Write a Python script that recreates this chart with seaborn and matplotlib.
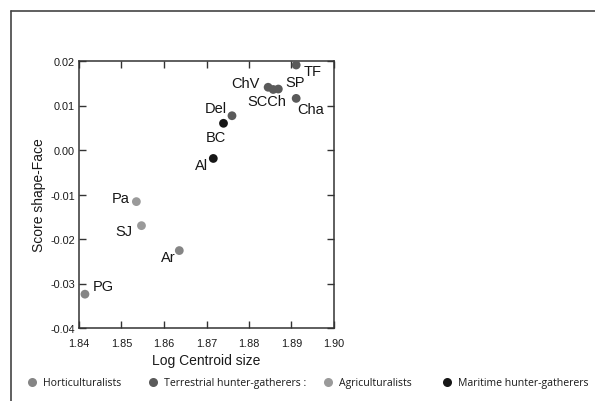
import matplotlib
matplotlib.use("Agg")
import matplotlib.pyplot as plt
from matplotlib.lines import Line2D
import seaborn as sns
import pandas as pd

# ---- data ----
labels = ["TF", "ChV", "SCCh", "SP", "Cha", "Del", "BC", "Al", "Pa", "SJ", "Ar", "PG"]
log_centroid = [1.8911, 1.8845, 1.8857, 1.8869, 1.8911, 1.8760, 1.8740, 1.8716, 1.8535, 1.8547, 1.8636, 1.8414]
score_face = [0.0191, 0.0141, 0.0136, 0.0137, 0.0116, 0.0077, 0.0060, -0.0019, -0.0116, -0.0170, -0.0226, -0.0324]
groups = ["Terrestrial", "Terrestrial", "Terrestrial", "Terrestrial", "Terrestrial", "Terrestrial",
          "Maritime", "Maritime", "Agriculturalists", "Agriculturalists", "Horticulturalists", "Horticulturalists"]
group_order = ["Horticulturalists", "Terrestrial", "Agriculturalists", "Maritime"]
legend_labels = ["Horticulturalists", "Terrestrial hunter-gatherers :", "Agriculturalists", "Maritime hunter-gatherers"]
x_ticks = [1.84, 1.85, 1.86, 1.87, 1.88, 1.89, 1.90]
x_ticklabels = ["1.84", "1.85", "1.86", "1.87", "1.88", "1.89", "1.90"]
y_ticks = [-0.04, -0.03, -0.02, -0.01, 0.00, 0.01, 0.02]
y_ticklabels = ["-0.04", "-0.03", "-0.02", "-0.01", "0.00", "0.01", "0.02"]

df = pd.DataFrame({"x": log_centroid, "y": score_face, "group": groups, "label": labels})

# ---- style ----
sns.set_style("ticks")
plt.rcParams["font.family"] = ["Liberation Sans", "DejaVu Sans"]
palette = {"Horticulturalists": "#858585", "Terrestrial": "#5a5a5a",
           "Agriculturalists": "#9a9a9a", "Maritime": "#161616"}

fig = plt.figure(figsize=(5.95, 4.02), dpi=100)
ax = fig.add_axes([79 / 595, 1 - 329 / 402, (334 - 79) / 595, (329 - 62) / 402])

sns.scatterplot(data=df, x="x", y="y", hue="group", palette=palette, s=40,
                edgecolor="none", legend=False, ax=ax, zorder=3)

# point labels (layout: alignment + pixel offset)
label_layout = {
    "TF": ("left", 7, -6), "ChV": ("right", -9, 4), "SP": ("left", 7, 7),
    "SCCh": ("center", -6, -12), "Cha": ("left", 1, -11), "Del": ("right", -5, 8),
    "BC": ("center", -8, -14), "Al": ("right", -5, -7), "Pa": ("right", -7, 4),
    "SJ": ("right", -9, -5), "Ar": ("right", -4, -6), "PG": ("left", 8, 8),
}
for _, r in df.iterrows():
    ha, dx, dy = label_layout[r["label"]]
    ax.annotate(r["label"], (r["x"], r["y"]), xytext=(dx, dy), textcoords="offset pixels",
                ha=ha, va="center", fontsize=10.5, color="#161616")

ax.set_xlim(1.84, 1.90)
ax.set_ylim(-0.04, 0.02)
ax.set_xticks(x_ticks)
ax.set_xticklabels(x_ticklabels)
ax.set_yticks(y_ticks)
ax.set_yticklabels(y_ticklabels)
ax.tick_params(direction="in", length=5, width=1, top=True, right=True, color="#333333",
               labelsize=7.8, labelcolor="#1a1a1a")
ax.tick_params(axis="x", pad=7)
ax.tick_params(axis="y", pad=3)
for sp in ax.spines.values():
    sp.set_linewidth(1.1)
    sp.set_color("#333333")
ax.set_xlabel("Log Centroid size", fontsize=10, color="#1a1a1a", labelpad=4)
ax.set_ylabel("Score shape-Face", fontsize=10, color="#1a1a1a")
ax.yaxis.set_label_coords(-0.128, 0.5)

# outer frame lines
fig.add_artist(Line2D([11 / 595, 1.0], [1 - 12 / 402, 1 - 12 / 402], color="#444444", lw=1.2))
fig.add_artist(Line2D([11 / 595, 11 / 595], [0.0, 1 - 12 / 402], color="#444444", lw=1.2))

# legend (one entry per position)
leg_x = [27.8 / 595, 148.8 / 595, 323.8 / 595, 442.8 / 595]
for g, lab, lx in zip(group_order, legend_labels, leg_x):
    h = Line2D([], [], marker="o", linestyle="none", markersize=6.5,
               markerfacecolor=palette[g], markeredgecolor="none")
    lg = fig.legend([h], [lab], loc="center left", bbox_to_anchor=(lx, 1 - 384 / 402),
                    frameon=False, handlelength=0.8, handletextpad=0.64, borderpad=0,
                    borderaxespad=0, prop={"family": ["Open Sans", "DejaVu Sans"], "size": 7.6})
    for t in lg.get_texts():
        t.set_color("#1a1a1a")

fig.savefig("out.png", dpi=100)
